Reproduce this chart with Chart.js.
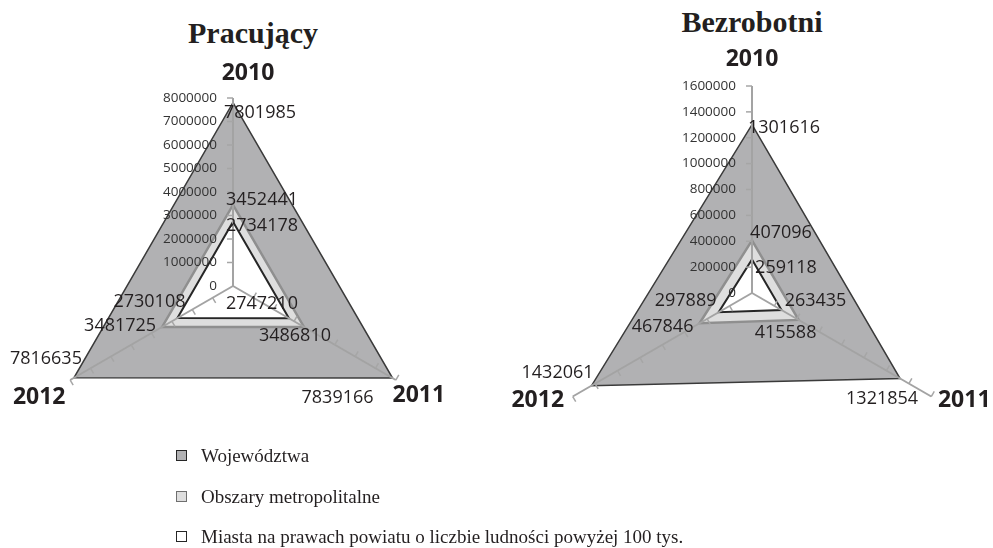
<!DOCTYPE html>
<html lang="pl">
<head>
<meta charset="utf-8">
<script src="https://cdn.jsdelivr.net/npm/chart.js@4.4.1/dist/chart.umd.min.js"></script>
<style>
    body { margin: 0; background: #fff; }
    #wrap { position: relative; width: 993px; height: 548px; overflow: hidden; }
    canvas { position: absolute; top: 0; }
    .title { position: absolute; font-family: "Liberation Serif", serif; font-weight: bold; font-size: 30px; line-height: 30px; color: #231f20; text-align: center; width: 300px; }
    .legend-row { position: absolute; left: 176px; font-family: "Liberation Serif", serif; font-size: 19px; line-height: 19px; color: #231f20; white-space: nowrap; }
    .legend-box { position: absolute; left: 0; top: 4px; width: 9px; height: 9px; border: 1px solid #333; }
    .legend-text { position: absolute; left: 25px; top: 0; }
</style>
</head>
<body>
<div id="wrap">
    <div class="title" style="left:103px; top:18px;">Pracujący</div>
    <div class="title" style="left:602px; top:7px;">Bezrobotni</div>
    <canvas id="pracChart" width="496" height="548" style="left:0;"></canvas>
    <canvas id="bezrChart" width="497" height="548" style="left:496px;"></canvas>
    <div id="legend"></div>
</div>
<script>
// Categories (years) and series names
const years = ['2010', '2011', '2012'];
const seriesNames = ['Województwa', 'Obszary metropolitalne', 'Miasta na prawach powiatu o liczbie ludności powyżej 100 tys.'];

// Pracujący
const pracWojewodztwa = [7801985, 7839166, 7816635];
const pracObszary = [3452441, 3486810, 3481725];
const pracMiasta = [2734178, 2747210, 2730108];

// Bezrobotni
const bezrWojewodztwa = [1301616, 1321854, 1432061];
const bezrObszary = [407096, 415588, 467846];
const bezrMiasta = [259118, 263435, 297889];

// Axis ranges
const pracMax = 8000000, pracStep = 1000000;
const bezrMax = 1600000, bezrStep = 200000;

// Styles for the three series
const fills = ['#b1b1b3', '#dedede', '#ffffff'];
const borders = ['#3a3a3a', '#8f8f8f', '#262626'];
const borderWidths = [1.5, 2.5, 2];

// Draws axis tick marks, tick labels, year labels and value labels
const radarExtras = {
    id: 'radarExtras',
    afterDraw(chart, args, opts) {
        const ctx = chart.ctx;
        const r = chart.scales.r;
        const n = chart.data.labels.length;
        ctx.save();

        // small tick marks on every axis
        ctx.strokeStyle = '#a6a6a6';
        ctx.lineWidth = 1.5;
        r.ticks.forEach(t => {
            if (t.value === 0) return;
            for (let i = 0; i < n; i++) {
                const p = r.getPointPositionForValue(i, t.value);
                const a = r.getIndexAngle(i) - Math.PI;
                ctx.beginPath();
                ctx.moveTo(p.x, p.y);
                ctx.lineTo(p.x + 6 * Math.cos(a), p.y + 6 * Math.sin(a));
                ctx.stroke();
            }
        });

        // tick labels left of the vertical axis
        ctx.fillStyle = '#333';
        ctx.font = '13.5px "Open Sans"';
        ctx.textAlign = 'right';
        ctx.textBaseline = 'middle';
        r.ticks.forEach(t => {
            const p = r.getPointPositionForValue(0, t.value);
            ctx.fillText(t.label, p.x - 16, p.y);
        });

        // year labels at the end of each axis
        ctx.fillStyle = '#231f20';
        ctx.font = 'bold 23px "Open Sans"';
        ctx.textAlign = 'center';
        chart.data.labels.forEach((lbl, i) => {
            const p = r.getPointPosition(i, r.drawingArea);
            const o = opts.yearOffsets[i];
            ctx.fillText(lbl, p.x + o[0], p.y + o[1]);
        });

        // value labels
        ctx.fillStyle = '#231f20';
        ctx.font = '18px "Open Sans"';
        chart.data.datasets.forEach((ds, d) => {
            ds.data.forEach((v, i) => {
                const p = r.getPointPositionForValue(i, v);
                const o = opts.valueOffsets[d][i];
                ctx.fillText(String(v), p.x + o[0], p.y + o[1]);
            });
        });
        ctx.restore();
    }
};

function makeRadar(canvasId, values, max, step, padding, yearOffsets, valueOffsets) {
    const ctx = document.getElementById(canvasId).getContext('2d');
    const datasets = values.map((vals, i) => ({
        label: seriesNames[i],
        data: vals,
        fill: true,
        backgroundColor: fills[i],
        borderColor: borders[i],
        borderWidth: borderWidths[i],
        pointRadius: 0,
        tension: 0,
        order: 3 - i
    }));

    new Chart(ctx, {
        type: 'radar',
        data: { labels: years, datasets: datasets },
        options: {
            responsive: false,
            animation: false,
            layout: { padding: padding },
            plugins: {
                legend: { display: false },
                tooltip: { enabled: false },
                radarExtras: { yearOffsets: yearOffsets, valueOffsets: valueOffsets }
            },
            scales: {
                r: {
                    min: 0,
                    max: max,
                    grid: { display: false, z: 1 },  // z > 0 puts the axis lines above the fills
                    angleLines: { display: true, color: '#a3a3a3', lineWidth: 2 },
                    pointLabels: { display: false },
                    ticks: {
                        display: false,
                        stepSize: step,
                        callback: v => String(v)
                    }
                }
            }
        },
        plugins: [radarExtras]
    });
}

makeRadar('pracChart',
    [pracWojewodztwa, pracObszary, pracMiasta],
    pracMax, pracStep,
    { left: 45, right: 75, top: 98, bottom: 74 },
    [[15, -25], [23, 15], [-31, 17]],
    [
        [[27, 10], [-55, 20], [-28, -19]],
        [[29, -5], [-9, 9], [-42, -1]],
        [[29, 4], [-27, -14], [-28, -16]]
    ]);

makeRadar('bezrChart',
    [bezrWojewodztwa, bezrObszary, bezrMiasta],
    bezrMax, bezrStep,
    { left: 49, right: 34, top: 86, bottom: 48 },
    [[0, -27], [33, 4], [-35, 4]],
    [
        [[32, 3], [-18, 20], [-34, -13]],
        [[29, -7], [-13, 13], [-37, 4]],
        [[34, 8], [34, -9], [-33, -11]]
    ]);

// Shared legend below both charts
const legend = document.getElementById('legend');
const legendTops = [446, 487, 527];
seriesNames.forEach((name, i) => {
    const row = document.createElement('div');
    row.className = 'legend-row';
    row.style.top = legendTops[i] + 'px';
    const box = document.createElement('span');
    box.className = 'legend-box';
    box.style.background = fills[i];
    box.style.borderColor = i === 1 ? '#6f6f6f' : '#262626';
    const text = document.createElement('span');
    text.className = 'legend-text';
    text.textContent = name;
    row.appendChild(box);
    row.appendChild(text);
    legend.appendChild(row);
});
</script>
</body>
</html>
